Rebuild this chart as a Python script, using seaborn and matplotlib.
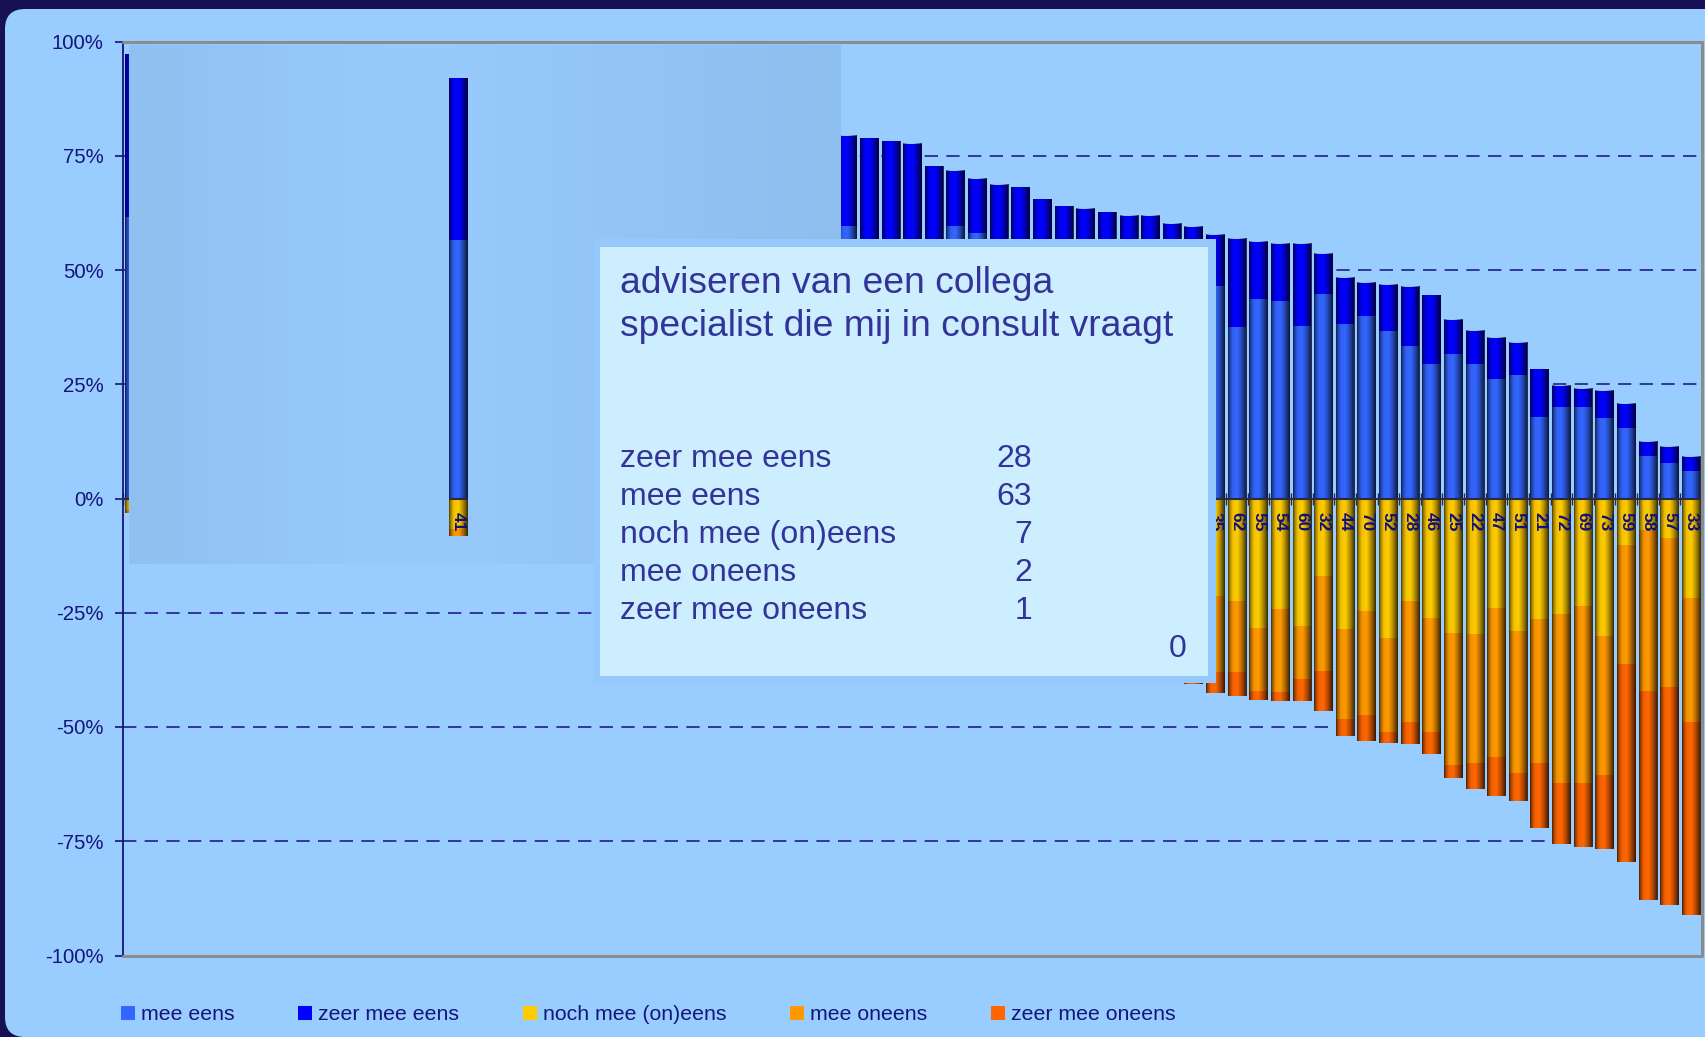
import numpy as np
import pandas as pd
import matplotlib
matplotlib.use("Agg")
import matplotlib.pyplot as plt
import seaborn as sns
from matplotlib.patches import Patch, Rectangle, FancyBboxPatch
from matplotlib.colors import to_rgb

# positie van de staaf in de gesorteerde reeks (0 = hoogste score); alleen zichtbare staven
rank = [0, 15,
        33, 34, 35, 36, 37, 38, 39, 40, 41, 42, 43, 44, 45, 46, 47, 48, 49,
        50, 51, 52, 53, 54, 55, 56, 57, 58, 59, 60, 61, 62, 63, 64, 65, 66, 67, 68, 69, 70, 71, 72]
labels = ["9", "41",
          "", "", "", "", "", "", "", "", "", "", "", "", "", "", "", "", "",
          "35", "62", "55", "54", "60", "32", "44", "70", "52", "28", "46", "25",
          "22", "47", "51", "21", "72", "69", "73", "59", "58", "57", "33"]

# percentages per antwoordcategorie
mee_eens = [61.5, 56.5,
            59.7, 52, 50, 48, 50, 59.7, 58.2, 50, 52, 48, 47, 50, 45, 48, 46, 47, 45,
            46.5, 37.6, 43.7, 43.3, 37.8, 44.8, 38.2, 40.0, 36.7, 33.4, 29.5, 31.7,
            29.5, 26.2, 27.1, 17.9, 20.1, 20.1, 17.6, 15.4, 9.3, 7.8, 6.0]
zeer_mee_eens = [35.7, 35.6,
                 19.7, 26.8, 28.3, 29.6, 22.8, 12.0, 11.8, 18.5, 16.2, 17.6, 17.1, 13.4, 17.8, 13.9, 15.9, 13.1, 14.5,
                 11.2, 19.2, 12.5, 12.4, 17.9, 8.7, 10.1, 7.2, 10.1, 12.9, 15.1, 7.4,
                 7.2, 9.0, 7.0, 10.5, 4.6, 3.9, 5.9, 5.3, 3.1, 3.5, 3.1]
noch = [2.5, 6.6,
        12, 11, 12, 13, 15, 16, 17, 18, 17, 19, 20, 21, 20, 21, 20, 22, 21,
        21.4, 22.5, 28.4, 24.2, 27.9, 17.0, 28.6, 24.6, 30.6, 22.5, 26.2, 29.5,
        29.7, 24.0, 29.0, 26.4, 25.3, 23.6, 30.1, 10.2, 6.9, 8.7, 21.8]
mee_oneens = [0.6, 1.5,
              7, 8, 8, 7.5, 10, 10, 11, 11, 12, 12, 13, 13, 14, 14, 15, 15, 17,
              16.5, 15.5, 13.8, 18.2, 11.6, 20.8, 19.7, 22.8, 20.5, 26.4, 24.9, 28.9,
              28.2, 32.6, 31.1, 31.5, 37.0, 38.7, 30.5, 26.0, 35.3, 32.6, 27.1]
zeer_mee_oneens = [0, 0,
                   1.6, 2.2, 1.7, 1.9, 2.2, 2.3, 2.0, 2.5, 2.8, 3.4, 2.9, 2.6, 3.2, 3.1, 3.1, 2.9, 2.6,
                   4.7, 5.3, 1.9, 2.0, 4.9, 8.8, 3.7, 5.7, 2.5, 4.9, 4.7, 2.8,
                   5.7, 8.6, 6.2, 14.1, 13.4, 14.0, 16.2, 43.4, 45.7, 47.7, 42.3]

highlight = "41"

legend_labels = ["mee eens", "zeer mee eens", "noch mee (on)eens", "mee oneens", "zeer mee oneens"]
y_ticks = [100, 75, 50, 25, 0, -25, -50, -75, -100]
grid_vals = [75, 50, 25, -25, -50, -75]

box_title = ["adviseren van een collega", "specialist die mij in consult vraagt"]
box_rows = ["zeer mee eens", "mee eens", "noch mee (on)eens", "mee oneens", "zeer mee oneens"]
box_counts = [28, 63, 7, 2, 1]
box_extra = "0"

# kleuren
BG = "#99ccff"
NAVY = "#14147a"
TXT = "#333399"
C_MEE, C_ZEER, C_NOCH, C_MEE_ON, C_ZEER_ON = "#3366ff", "#0000ff", "#ffcc00", "#ff9900", "#ff6600"
BAR_W = 0.86

sns.set_theme(style="white")
plt.rcParams["font.family"] = ["Liberation Sans", "DejaVu Sans"]

W, H = 1705, 1037
fig = plt.figure(figsize=(W / 100, H / 100), dpi=100, facecolor="#161152")
fig.add_artist(FancyBboxPatch((0.05, 0.0), 17.6, 10.28, boxstyle="round,pad=0,rounding_size=0.2",
                              transform=fig.dpi_scale_trans, facecolor=BG, edgecolor="none", zorder=-1))
ax = fig.add_axes([123 / W, 1 - 955.5 / H, 1579 / W, 914 / H])
ax.set_facecolor(BG)

df = pd.DataFrame({"rank": rank, "label": labels, "mee_eens": mee_eens, "zeer_mee_eens": zeer_mee_eens,
                   "noch": noch, "mee_oneens": mee_oneens, "zeer_mee_oneens": zeer_mee_oneens})
df["pos_top"] = df.mee_eens + df.zeer_mee_eens
df["neg_all"] = -(df.noch + df.mee_oneens + df.zeer_mee_oneens)
df["neg_mid"] = -(df.noch + df.mee_oneens)
df["neg_noch"] = -df.noch
hl_rank = int(df.loc[df.label == highlight, "rank"].iloc[0])

# gestapelde staven: eerst de totale lengte, daarna de kortere delen erover
layers = [("pos_top", C_ZEER), ("mee_eens", C_MEE), ("neg_all", C_ZEER_ON),
          ("neg_mid", C_MEE_ON), ("neg_noch", C_NOCH)]
for col, c in layers:
    sns.barplot(data=df, x="rank", y=col, native_scale=True, color=c, saturation=1,
                width=BAR_W, errorbar=None, linewidth=0, ax=ax, zorder=2)

for p in ax.patches:
    if abs(p.get_x() + p.get_width() / 2 - hl_rank) < 0.01:
        p.set_zorder(3.5)

# cilinder-effect: donkere randen links en rechts
t = np.linspace(0, 1, 64)
shade = np.zeros((1, 64, 4))
shade[..., 3] = np.interp(t, [0, .07, .25, .5, .7, .88, 1], [.72, .42, .05, 0, .25, .55, .8])
for r, lo, hi in zip(df["rank"], df.neg_all, df.pos_top):
    ax.imshow(shade, extent=[r - BAR_W / 2, r + BAR_W / 2, lo, hi], aspect="auto",
              interpolation="bilinear", zorder=3.6 if r == hl_rank else 2.2)
ax.hlines(0, hl_rank - BAR_W / 2, hl_rank + BAR_W / 2, color="#2a2a40", lw=1.5, zorder=3.65)

# labels in de staven
for r, lab in zip(df["rank"], df["label"]):
    if not lab:
        continue
    ax.annotate(lab, (r, 0), xytext=(0, -13), textcoords="offset pixels", rotation=-90,
                ha="center", va="top", fontsize=12.5, fontweight="bold", color="#10107a",
                zorder=3.7 if r == hl_rank else 2.8, annotation_clip=False)

# afdekvlak met verloop
stops = [0, .15, .4, .6, 1]
cols = np.array([to_rgb(c) for c in ["#90c0f0", "#93c4f5", "#98cbfd", "#95c6f8", "#8ebeee"]])
tt = np.linspace(0, 1, 256)
grad = np.stack([np.interp(tt, stops, cols[:, k]) for k in range(3)], axis=-1)[None]
ax.imshow(grad, extent=[0.0038, 0.4547, 0.4283, 0.9951], transform=ax.transAxes,
          aspect="auto", interpolation="bilinear", zorder=3)

for v in grid_vals:
    ax.axhline(v, color="#1f1f8f", lw=1.2, ls=(0, (8, 5)), zorder=1)

ax.set_xlim(-0.5, max(rank) + 0.5)
ax.set_ylim(-100, 100)
ax.set_xlabel("")
ax.set_ylabel("")
ax.spines["top"].set_visible(False)
ax.spines["right"].set_visible(False)
ax.spines["bottom"].set_position(("data", 0))
ax.spines["bottom"].set_color("#2a2a40")
ax.spines["bottom"].set_linewidth(1.5)
ax.spines["left"].set_color(NAVY)
ax.spines["left"].set_linewidth(1.3)
ax.plot([0, 1, 1, 0], [1, 1, 0, 0], transform=ax.transAxes, color="#8c8c8c", lw=2.2,
        clip_on=False, zorder=2.6)

ax.set_xticks([])
ax.set_xticks(np.arange(-0.5, max(rank) + 1, 1), minor=True)
ax.tick_params(axis="x", which="minor", bottom=True, direction="inout", length=9, width=1, color="#2a2a40")
ax.set_yticks(y_ticks)
ax.set_yticklabels([f"{v}%" for v in y_ticks], fontsize=14.7, color=NAVY)
ax.tick_params(axis="y", left=True, direction="out", length=6, width=1.2, color=NAVY, pad=8)

# tekstvak
fig.add_artist(Rectangle((592.5 / W, 1 - 683 / H), 623.5 / W, 444.5 / H, transform=fig.transFigure,
                         facecolor="#95c8fb", edgecolor="none", zorder=5))
fig.add_artist(Rectangle((600 / W, 1 - 676 / H), 608 / W, 429 / H, transform=fig.transFigure,
                         facecolor="#cceeff", edgecolor="none", zorder=5.1))
for i, line in enumerate(box_title):
    fig.text(620 / W, 1 - (293 + 43 * i) / H, line, fontsize=26.8, color=TXT, va="baseline", zorder=6)
for i, (lab, cnt) in enumerate(zip(box_rows, box_counts)):
    y = 1 - (466.7 + 38.1 * i) / H
    fig.text(620 / W, y, lab, fontsize=23, color=TXT, va="baseline", zorder=6)
    fig.text(1032 / W, y, str(cnt), fontsize=23, color=TXT, va="baseline", ha="right", zorder=6)
fig.text(1187 / W, 1 - 657.3 / H, box_extra, fontsize=23, color=TXT, va="baseline", ha="right", zorder=6)

# legenda
handles = [Patch(facecolor=c, edgecolor="none") for c in [C_MEE, C_ZEER, C_NOCH, C_MEE_ON, C_ZEER_ON]]
fig.legend(handles, legend_labels, loc="center left", bbox_to_anchor=(120.7 / W, 1 - 1015 / H), ncol=5,
           frameon=False, fontsize=15.3, handlelength=0.66, handleheight=0.66, handletextpad=0.3,
           columnspacing=2.98, borderpad=0, borderaxespad=0, labelcolor=NAVY)

fig.savefig("out.png", dpi=100, facecolor=fig.get_facecolor())
